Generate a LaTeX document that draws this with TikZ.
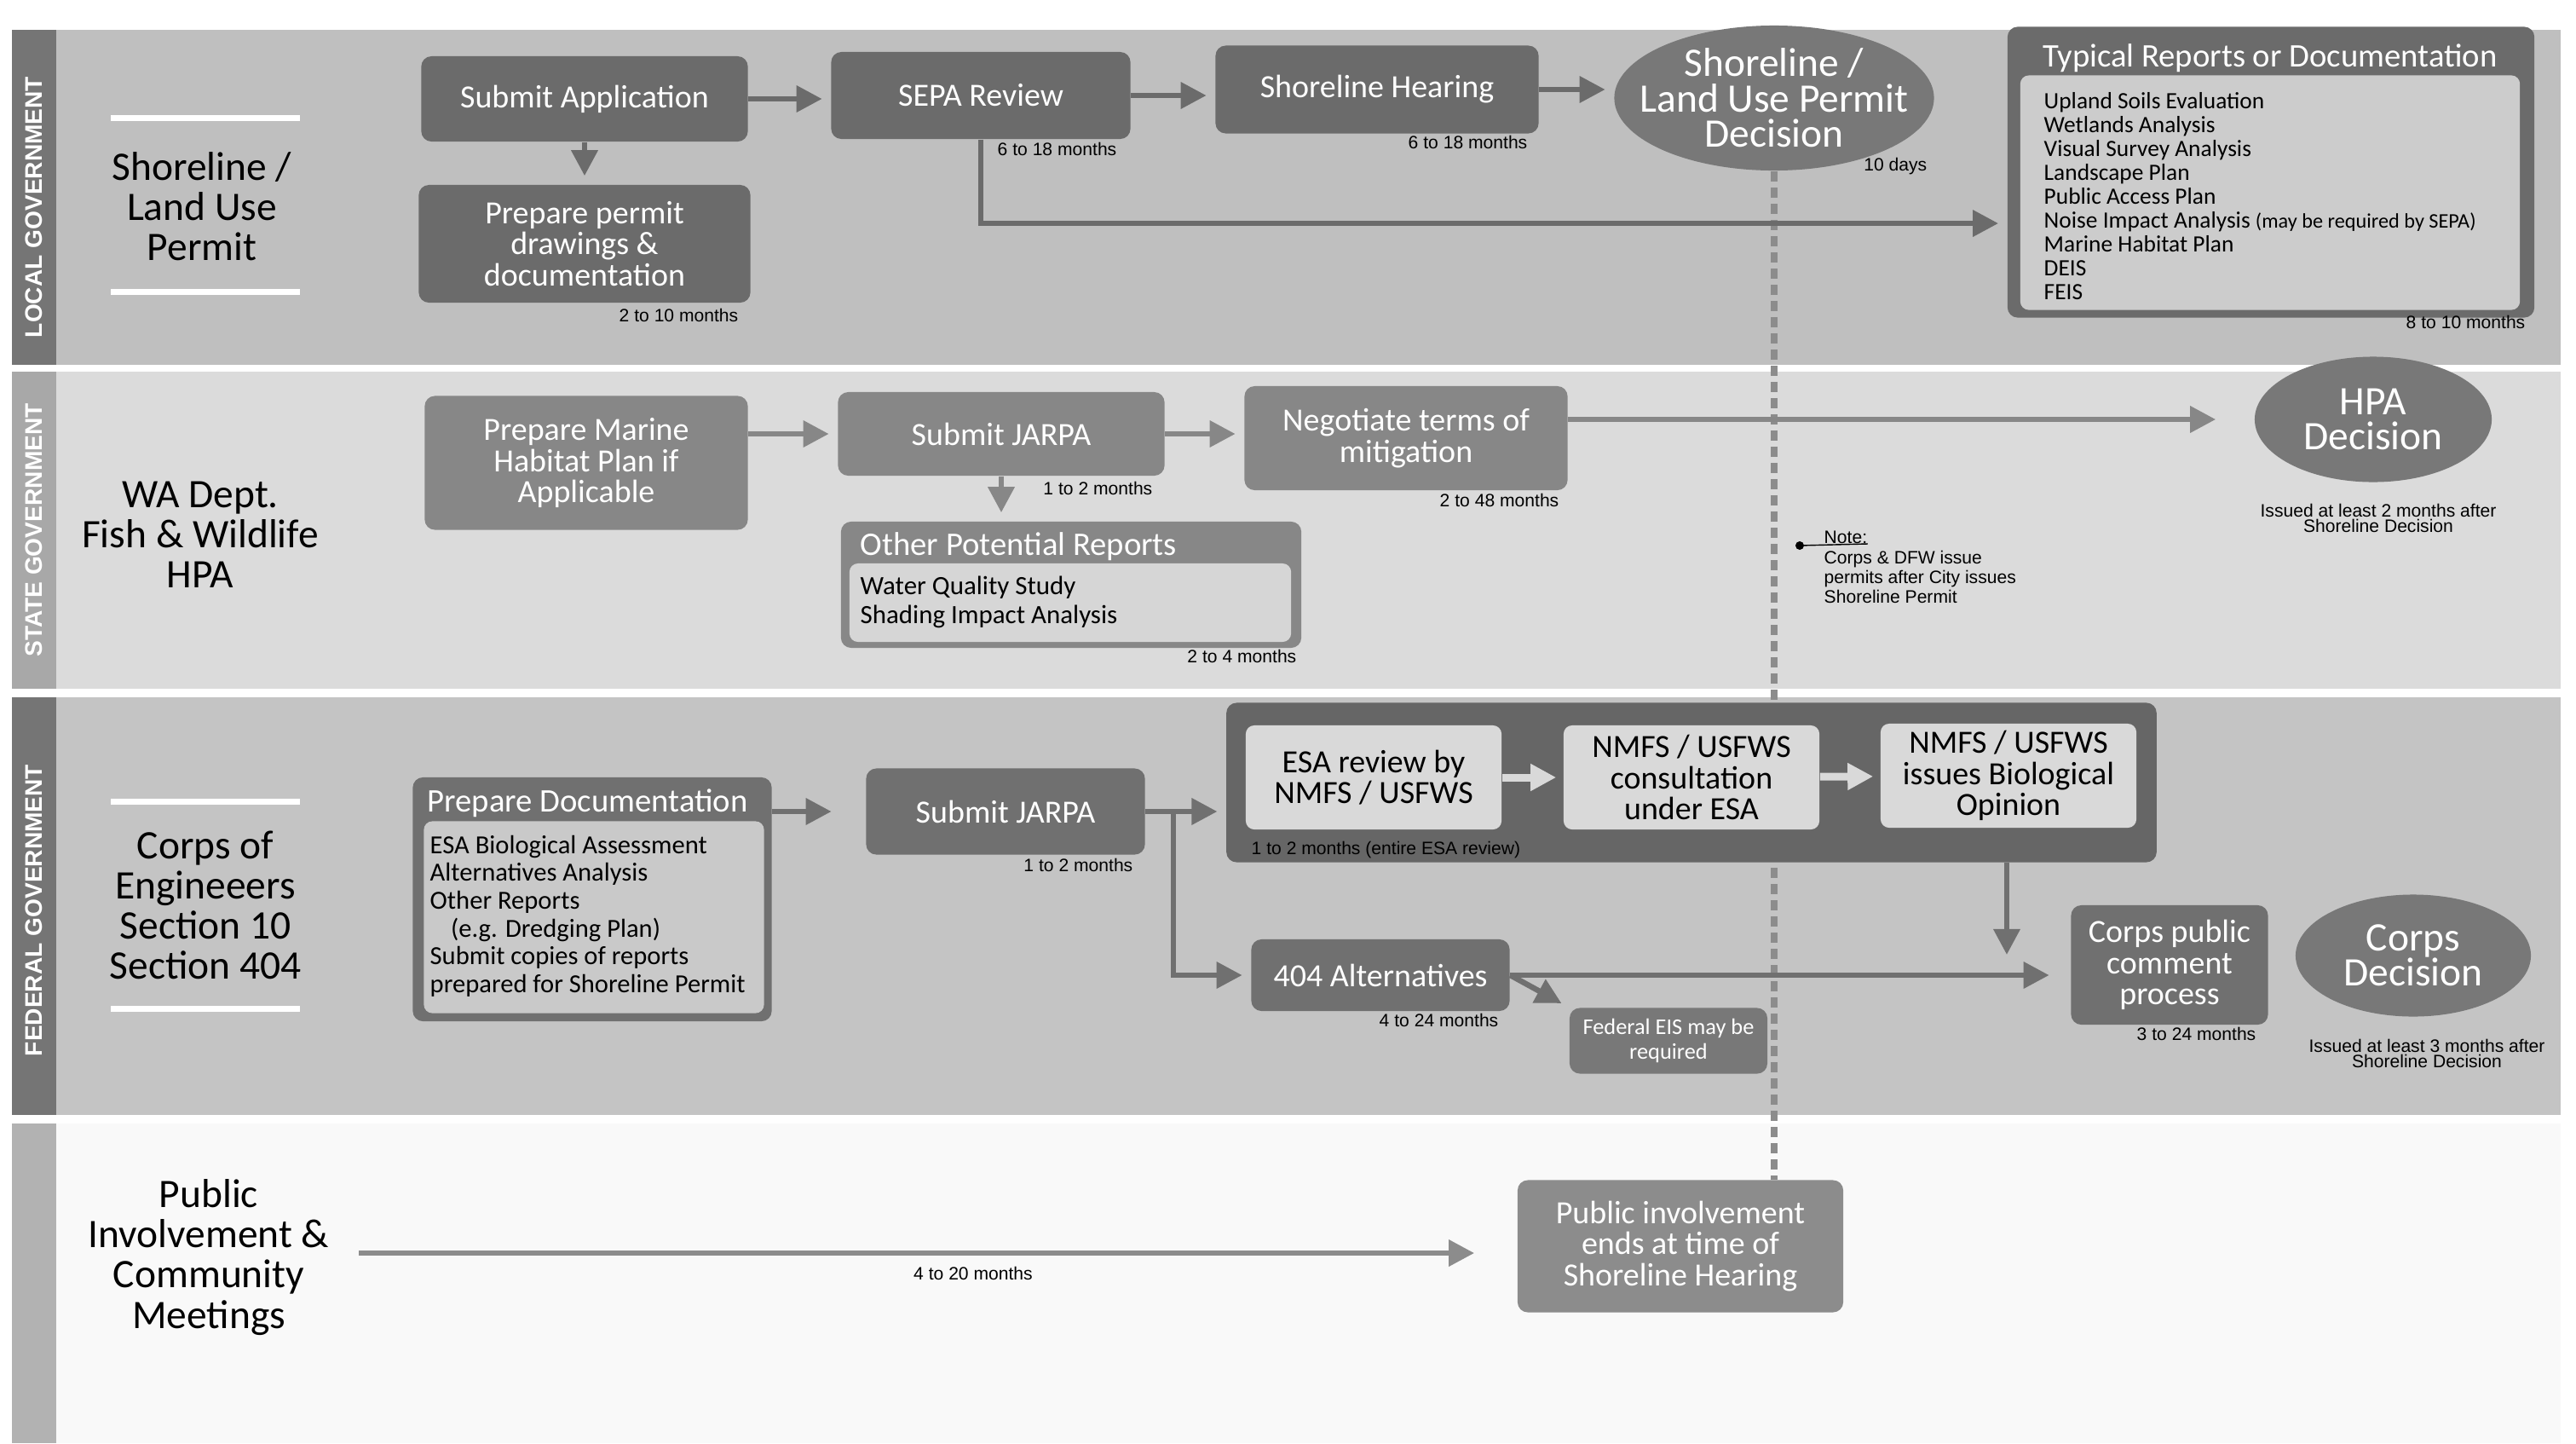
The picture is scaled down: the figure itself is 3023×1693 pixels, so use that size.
\documentclass[tikz,border=0pt]{standalone}
\usepackage{fontspec}
\setmainfont{Carlito}
\newfontfamily\labelfont{Liberation Sans}
\usetikzlibrary{arrows.meta,shapes.geometric}
\definecolor{bandlocal}{gray}{0.75}
\definecolor{bandstate}{gray}{0.86}
\definecolor{bandfed}{gray}{0.77}
\definecolor{bandpub}{gray}{0.975}
\definecolor{striplocal}{gray}{0.46}
\definecolor{stripstate}{gray}{0.66}
\definecolor{stripfed}{gray}{0.46}
\definecolor{strippub}{gray}{0.70}
\definecolor{boxlocal}{gray}{0.42}
\definecolor{boxstate}{gray}{0.53}
\definecolor{boxfed}{gray}{0.44}
\definecolor{ellcol}{gray}{0.47}
\definecolor{esaouter}{gray}{0.40}
\definecolor{esainner}{gray}{0.85}
\definecolor{liteinner}{gray}{0.80}
\definecolor{stateinner}{gray}{0.84}
\definecolor{fedinner}{gray}{0.79}
\definecolor{eiscol}{gray}{0.47}
\definecolor{pubcol}{gray}{0.55}
\definecolor{dashcol}{gray}{0.55}
\begin{document}
\begin{tikzpicture}[x=0.01cm,y=-0.01cm,
  stagebox/.style={fill=#1,rounded corners=0.12cm,text=white,align=center,
    font=\fontsize{10.8}{10.4}\selectfont,inner sep=0pt},
  stagebox/.default=boxlocal,
  litebox/.style={fill=esainner,rounded corners=0.1cm,text=black,align=center,
    font=\fontsize{10.8}{10.4}\selectfont,inner sep=0pt,minimum width=3cm,minimum height=1.22cm},
  decell/.style={ellipse,fill=#1,inner sep=0pt},
  dectext/.style={text=white,align=center,font=\fontsize{13.5}{11.8}\selectfont},
  rowlabel/.style={align=center,font=\fontsize{13.5}{13.4}\selectfont},
  striptext/.style={rotate=90,text=white,font=\labelfont\bfseries\fontsize{8}{8}\selectfont},
  months/.style={font=\labelfont\fontsize{6}{5}\selectfont,inner sep=0pt},
  titletext/.style={text=white,inner sep=0pt,font=\fontsize{11}{11}\selectfont},
  listtext/.style={anchor=base west,inner sep=0pt,font=\fontsize{#1}{#1}\selectfont},
  flowarrow/.style={draw=#1,line width=0.065cm,-{Triangle[length=0.3cm,width=0.3cm]},shorten >=0.1cm},
  flowarrow/.default=boxlocal]
\useasboundingbox (0,0) rectangle (3023,1693);
%bands
\fill[bandlocal] (14,35) rectangle (3005,428);
\fill[bandstate] (14,436) rectangle (3005,808);
\fill[bandfed] (14,818) rectangle (3005,1308);
\fill[bandpub] (14,1318) rectangle (3005,1693);
%left strips
\fill[striplocal] (14,35) rectangle (66,428);
\fill[stripstate] (14,436) rectangle (66,808);
\fill[stripfed] (14,818) rectangle (66,1308);
\fill[strippub] (14,1318) rectangle (66,1693);
\node[striptext] (sloc) at (40,243) {LOCAL GOVERNMENT};
\node[striptext] (ssta) at (40,622) {STATE GOVERNMENT};
\node[striptext] (sfed) at (40,1068) {FEDERAL GOVERNMENT};
\foreach \y in {138,342,940,1183}{
\draw[white,line width=0.07cm] (130,\y) -- (352,\y);
}
%row labels
\node[rowlabel] (lloc) at (237,242) {Shoreline /\\Land Use\\Permit};
\node[rowlabel] (lsta) at (235,627) {WA Dept.\\Fish \& Wildlife\\HPA};
\node[rowlabel] (lfed) at (241,1062) {Corps of\\Engineeers\\Section 10\\Section 404};
\node[rowlabel] (lpub) at (245,1475) {Public\\Involvement \&\\Community\\Meetings};
%local government
\node[stagebox,minimum width=3.83cm,minimum height=1cm] (subapp) at (686,116) {Submit Application};
\node[stagebox,minimum width=3.89cm,minimum height=1.38cm] (prep) at (686,286) {Prepare permit\\drawings \&\\documentation};
\node[stagebox,minimum width=3.51cm,minimum height=1.02cm] (sepa) at (1151,112) {SEPA Review};
\node[stagebox,minimum width=3.79cm,minimum height=1.03cm] (hear) at (1616,105) {Shoreline Hearing};
\node[decell=ellcol,minimum width=3.75cm,minimum height=1.7cm] (dec) at (2082,115) {};
\node[dectext] (dectxt) at (dec) {Shoreline /\\Land Use Permit\\Decision};
\node[stagebox,minimum width=6.18cm,minimum height=3.41cm] (typ) at (2665,202) {};
\node[fill=liteinner,rounded corners=0.1cm,minimum width=5.86cm,minimum height=2.75cm] (typin) at (2664,226) {};
\node[titletext] (typtitle) at (2664,68) {Typical Reports or Documentation};
\foreach \t [count=\i from 0] in {Upland Soils Evaluation,Wetlands Analysis,Visual Survey Analysis,Landscape Plan,Public Access Plan,Noise Impact Analysis {\fontsize{6.9}{7}\selectfont(may be required by SEPA)},Marine Habitat Plan,DEIS,FEIS}{
\node[listtext=7.8] (rep\i) at (2398,127+28.1*\i) {\t};
}
%state government
\node[stagebox=boxstate,minimum width=3.79cm,minimum height=1.57cm] (marine) at (688,543) {Prepare Marine\\Habitat Plan if\\Applicable};
\node[stagebox=boxstate,minimum width=3.83cm,minimum height=0.98cm] (jarpas) at (1175,509) {Submit JARPA};
\node[stagebox=boxstate,minimum width=3.79cm,minimum height=1.22cm] (negot) at (1650,514) {Negotiate terms of\\mitigation};
\node[decell=ellcol,minimum width=2.78cm,minimum height=1.47cm] (hpa) at (2785,492) {};
\node[dectext] (hpatxt) at (hpa) {HPA\\Decision};
\node[stagebox=boxstate,minimum width=5.4cm,minimum height=1.48cm] (other) at (1257,686) {};
\node[fill=stateinner,rounded corners=0.1cm,minimum width=5.18cm,minimum height=0.92cm] (otherin) at (1256,707) {};
\node[titletext,anchor=base west] (othertitle) at (1009,651) {Other Potential Reports};
\node[listtext=8.8] (oth1) at (1009,697) {Water Quality Study};
\node[listtext=8.8] (oth2) at (1009,731) {Shading Impact Analysis};
\node[months,align=center] (hpanote) at (2791,608) {Issued at least 2 months after\\Shoreline Decision};
%note
\coordinate (notedot) at (2112,640);
\fill (notedot) circle (0.05cm);
\node[months,anchor=south west] (notehead) at (2140,638) {Note:};
\draw (notedot) -- (notehead.south east);
\node[months,anchor=north west,align=left] (notebody) at (2140,645) {Corps \& DFW issue\\permits after City issues\\Shoreline Permit};
%public involvement
\node[stagebox=pubcol,minimum width=3.82cm,minimum height=1.55cm] (pubbox) at (1972,1462) {Public involvement\\ends at time of\\Shoreline Hearing};
\draw[dashcol,line width=0.085cm,dash pattern=on 0.12cm off 0.07cm] (dec.south) -- (dec.south |- pubbox.north);
%federal government
\node[stagebox=boxfed,minimum width=4.21cm,minimum height=2.86cm] (prepdoc) at (695,1055) {};
\node[fill=fedinner,rounded corners=0.1cm,minimum width=3.99cm,minimum height=2.25cm] (prepdocin) at (697,1076) {};
\node[titletext,anchor=base west] (prepdoctitle) at (501,952) {Prepare Documentation};
\foreach \t [count=\i from 0] in {ESA Biological Assessment,Alternatives Analysis,Other Reports,\hspace{0.8em}(e.g. Dredging Plan),Submit copies of reports,prepared for Shoreline Permit}{
\node[listtext=8.7] (doc\i) at (504,1001+32.7*\i) {\t};
}
\node[stagebox=boxfed,minimum width=3.27cm,minimum height=1.01cm] (jarpaf) at (1180,952) {Submit JARPA};
\node[stagebox=esaouter,minimum width=10.91cm,minimum height=1.87cm] (esa) at (1985,918) {};
\node[litebox] (esa1) at (1612,912) {ESA review by\\NMFS / USFWS};
\node[litebox] (esa2) at (1985,912) {NMFS / USFWS\\consultation\\under ESA};
\node[litebox] (esa3) at (2357,910) {NMFS / USFWS\\issues Biological\\Opinion};
\node[stagebox=boxfed,minimum width=3.03cm,minimum height=0.84cm] (alt) at (1620,1144) {404 Alternatives};
\node[stagebox=eiscol,minimum width=2.32cm,minimum height=0.77cm,font=\fontsize{7.5}{8}\selectfont] (eis) at (1958,1221) {Federal EIS may be\\required};
\node[stagebox=boxfed,minimum width=2.31cm,minimum height=1.4cm] (pubcom) at (2546,1132) {Corps public\\comment\\process};
\node[decell=ellcol,minimum width=2.76cm,minimum height=1.43cm] (corpsdec) at (2832,1121) {};
\node[dectext] (corpsdectxt) at (corpsdec) {Corps\\Decision};
\node[months,align=center] (corpsnote) at (2848,1236) {Issued at least 3 months after\\Shoreline Decision};
%durations
\foreach \px/\py/\t [count=\i] in {867/370/2 to 10 months,1311/175/6 to 18 months,1793/167/6 to 18 months,2262/195/10 days,2964/378/8 to 10 months,1353/573/1 to 2 months,1830/587/2 to 48 months,1522/770/2 to 4 months,1330/1015/1 to 2 months,1759/1197/4 to 24 months,2648/1213/3 to 24 months}{
\node[months,anchor=east] (dur\i) at (\px,\py) {\t};
}
\node[months,anchor=west] (duresa) at (1468,997) {1 to 2 months (entire ESA review)};
\node[months] (durpub) at (1142,1494) {4 to 20 months};
%connectors local
\draw[flowarrow] (subapp.east) -- (subapp.east -| sepa.west);
\draw[flowarrow] (subapp.south) -- (prep.north);
\draw[flowarrow] (sepa.east) -- (sepa.east -| hear.west);
\draw[flowarrow] (hear.east) -- (hear.east -| dec.west);
\draw[flowarrow] (sepa.south) |- ([yshift=-0.6cm]typ.west);
%connectors state
\draw[flowarrow=boxstate] (marine.east |- jarpas.west) -- (jarpas.west);
\draw[flowarrow=boxstate] (jarpas.east) -- (jarpas.east -| negot.west);
\draw[flowarrow=boxstate] (jarpas.south) -- (jarpas.south |- other.north);
\draw[flowarrow=boxstate,shorten >=0.45cm] (negot.east |- hpa.west) -- (hpa.west);
%connectors federal
\draw[flowarrow=boxfed,shorten >=0.4cm] (prepdoc.east |- jarpaf.west) -- (jarpaf.west);
\draw[flowarrow=boxfed] (jarpaf.east) -- (jarpaf.east -| esa.west);
\coordinate (fork) at (1377,952);
\draw[flowarrow=boxfed] (fork) |- (alt.west);
\draw[flowarrow=esainner,line width=0.09cm,shorten >=0.08cm] (esa1) -- (esa2);
\draw[flowarrow=esainner,line width=0.09cm,shorten >=0.08cm] (esa2) -- (esa3);
\coordinate (merge) at (2355,1120);
\draw[flowarrow=boxfed,shorten >=0cm] (esa.south -| merge) -- (merge);
\draw[flowarrow=boxfed,shorten >=0.25cm] (alt.east) -- (alt.east -| pubcom.west);
\draw[flowarrow=boxfed] (alt.east) -- (eis.north west);
%connector public
\coordinate (pubstart) at (421,1470);
\draw[flowarrow=pubcol,shorten >=0.5cm] (pubstart) -- (pubstart -| pubbox.west);
\end{tikzpicture}
\end{document}
